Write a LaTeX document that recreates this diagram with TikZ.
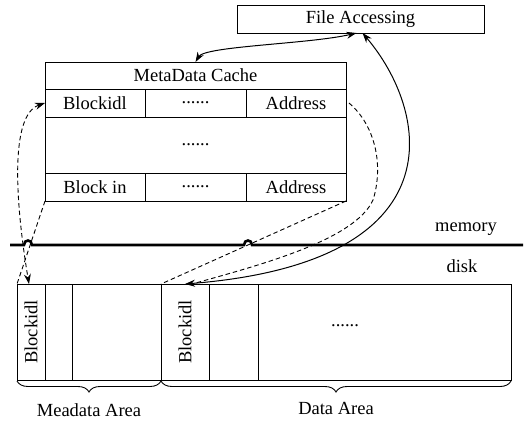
\documentclass[tikz,border=0pt]{standalone}
\usepackage{fontspec}
\setmainfont{Liberation Serif}
\usetikzlibrary{arrows.meta,decorations.pathreplacing}
\begin{document}
\begin{tikzpicture}[x=1pt,y=-1pt,font=\fontsize{18.5}{21}\selectfont,
  >={Stealth[length=10pt,width=7pt]},
  box/.style={draw,line width=1pt,inner sep=0pt,outer sep=0pt},
  dashline/.style={line width=0.9pt,dash pattern=on 4.5pt off 3pt},
  conn/.style={line width=1pt},
  bracestyle/.style={decorate,decoration={brace,mirror,amplitude=11pt},line width=0.9pt}]
\useasboundingbox[fill=white] (0,0) rectangle (530,423);

% File accessing
\node[box,minimum width=247pt,minimum height=28pt] (fa) at (360.5,19) {File Accessing};

% Metadata cache table
\node[box,minimum width=301pt,minimum height=27pt] (mc) at (195.5,75.5) {MetaData Cache};
\node[box,minimum width=100pt,minimum height=28pt] (b1) at (95,103) {Blockidl};
\node[box,minimum width=101pt,minimum height=28pt] (d1) at (195.5,103) {......};
\node[box,minimum width=100pt,minimum height=28pt] (a1) at (296,103) {Address};
\node[box,minimum width=301pt,minimum height=56pt] (mid) at (195.5,145) {......};
\node[box,minimum width=100pt,minimum height=28pt] (b2) at (95,187) {Block in};
\node[box,minimum width=101pt,minimum height=28pt] (d2) at (195.5,187) {......};
\node[box,minimum width=100pt,minimum height=28pt] (a2) at (296,187) {Address};

% memory / disk separator
\draw[line width=2.6pt] (10,245) -- (24,245) .. controls (24,239) and (32,239) .. (32,245)
  -- (244,245) .. controls (244,239) and (252,239) .. (252,245) -- (523,245);
\node (mem) at (466,229) {memory};
\node (dsk) at (462,266) {disk};

% Disk
\node[box,minimum width=494pt,minimum height=96pt] (disk) at (264,332) {};
\node[box,minimum width=28pt,minimum height=96pt] (md1) at (31,332) {};
\node[box,minimum width=27pt,minimum height=96pt] (md2) at (58.5,332) {};
\node[box,minimum width=89pt,minimum height=96pt] (md3) at (116.5,332) {};
\node[box,minimum width=48pt,minimum height=96pt] (dd1) at (185,332) {};
\node[box,minimum width=49pt,minimum height=96pt] (dd2) at (233.5,332) {};
\node[box,minimum width=253pt,minimum height=96pt] (dd3) at (384.5,332) {};
\node[rotate=90] (t1) at (md1) {Blockidl};
\node[rotate=90] (t2) at (dd1) {Blockidl};
\node (dots) at (345,326) {......};

% braces
\draw[bracestyle] ([yshift=-1pt]disk.south west) -- ([yshift=-1pt]md3.south east);
\draw[bracestyle] ([yshift=-1pt]dd1.south west) -- ([yshift=-1pt]disk.south east);
\node (ma) at (89,410) {Meadata Area};
\node (da) at (336,408) {Data Area};

% connectors
\draw[conn,<->] (mc.north) .. controls (205,46) and (310,44) .. ([xshift=-4pt]fa.south);
\draw[conn,<->] ([xshift=2pt]fa.south) .. controls (428,110) and (462,262) .. (dd1.north);
\draw[dashline,<->] (b1.west) .. controls (10,115) and (15,200) .. ([xshift=-2pt]md1.north);
\draw[dashline] (b2.south west) -- (disk.north west);
\draw[dashline] (a2.south east) -- (dd1.north west);
\draw[dashline] ([xshift=3pt]a1.east) .. controls (375,125) and (384,165) .. (373,200)
  .. controls (355,240) and (260,265) .. ([xshift=7pt]dd1.north);
\end{tikzpicture}
\end{document}
